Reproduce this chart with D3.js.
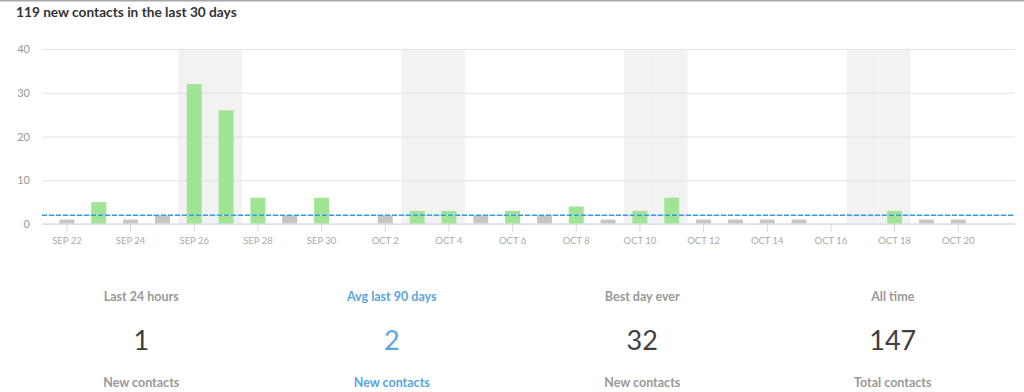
<!DOCTYPE html>
<html>
<head>
<meta charset="utf-8">
<script src="https://cdn.jsdelivr.net/npm/d3@7"></script>
<style>
  body { margin: 0; background: #fff; font-family: Lato, "Open Sans", sans-serif; }
  svg { display: block; }
</style>
</head>
<body>
<svg id="chart"></svg>
<script>
// data
var startDay = '2015-09-22';
var values = [1, 5, 1, 2, 32, 26, 6, 2, 6, 0, 2, 3, 3, 2, 3, 2, 4, 1, 3, 6, 1, 1, 1, 1, 0, 0, 3, 1, 1, 0];
var yTicks = [0, 10, 20, 30, 40];
var avg90 = 2;
var statTitles = ['Last 24 hours', 'Avg last 90 days', 'Best day ever', 'All time'];
var statValues = ['1', '2', '32', '147'];
var statUnits = ['New contacts', 'New contacts', 'New contacts', 'Total contacts'];

var W = 1024, H = 392;
var margin = { top: 49, right: 9, bottom: 168, left: 42 };
var plotW = W - margin.left - margin.right;
var plotH = H - margin.top - margin.bottom;

var parse = d3.timeParse('%Y-%m-%d');
var days = values.map(function (v, i) { return d3.timeDay.offset(parse(startDay), i); });
var fmt = d3.timeFormat('%b %-d');

var svg = d3.select('#chart').attr('width', W).attr('height', H);

// top border + title
svg.append('rect').attr('x', 0).attr('y', 0).attr('width', W).attr('height', 1.5).style('fill', '#a8a8a8');
svg.append('text')
    .attr('x', 16).attr('y', 17)
    .style('font-size', '13.7px').style('font-weight', 'bold').style('fill', '#333')
    .text(d3.sum(values) + ' new contacts in the last ' + values.length + ' days');

var g = svg.append('g').attr('transform', 'translate(' + margin.left + ',' + margin.top + ')');

var x = d3.scaleBand().domain(d3.range(values.length)).range([9, plotW - 9]);
var y = d3.scaleLinear().domain([0, 40]).range([plotH, 0]);

// weekend shading
g.selectAll('.wk').data(days.map(function (d, i) { return i; }).filter(function (i) {
        var wd = days[i].getDay(); return wd === 0 || wd === 6;
    }))
    .enter().append('rect')
    .attr('x', function (i) { return x(i); })
    .attr('y', 0)
    .attr('width', x.step())
    .attr('height', plotH)
    .style('fill', '#f2f2f2');

// gridlines + y labels
var yAxis = d3.axisLeft(y).tickValues(yTicks).tickSize(-plotW).tickPadding(12);
g.append('g').call(yAxis)
    .call(function (s) {
        s.select('.domain').remove();
        s.selectAll('.tick line').style('stroke', '#e2e2e2');
        s.selectAll('.tick text').style('fill', '#999').style('font-size', '11px').style('font-family', 'Lato');
    });

// bars
var bw = x.bandwidth() * 0.47;
g.selectAll('.bar').data(values).enter().append('rect')
    .attr('x', function (d, i) { return x(i) + (x.bandwidth() - bw) / 2; })
    .attr('y', function (d) { return y(d); })
    .attr('width', bw)
    .attr('height', function (d) { return plotH - y(d); })
    .style('fill', function (d) { return d > avg90 ? '#9fe594' : '#c5c5c5'; });

// x axis
var xAxis = d3.axisBottom(x)
    .tickValues(d3.range(0, values.length, 2))
    .tickFormat(function (i) { return fmt(days[i]).toUpperCase(); })
    .tickSize(8).tickPadding(5).tickSizeOuter(0);
g.append('g').attr('transform', 'translate(0,' + plotH + ')').call(xAxis)
    .call(function (s) {
        s.select('.domain').attr('d', 'M0,0H' + plotW).style('stroke', '#d9e1ec').style('stroke-width', 1.5);
        s.selectAll('.tick line').style('stroke', '#d0dbe8');
        s.selectAll('.tick text').style('fill', '#aaa').style('font-size', '9.5px').style('font-family', 'Lato');
    });

// average line
g.append('line').attr('x1', 0).attr('x2', plotW).attr('y1', y(avg90)).attr('y2', y(avg90))
    .style('stroke', '#b9dcf0').style('stroke-width', 1);
g.append('line').attr('x1', 0).attr('x2', plotW).attr('y1', y(avg90)).attr('y2', y(avg90))
    .style('stroke', '#3d9bd3').style('stroke-width', 1.5).style('stroke-dasharray', '5,2');

// stats
var cx = d3.scaleBand().domain(d3.range(4)).range([16, 1018]);
var stats = svg.append('g').selectAll('.stat').data(statTitles).enter().append('g')
    .attr('transform', function (d, i) { return 'translate(' + (cx(i) + cx.bandwidth() / 2) + ',0)'; })
    .style('text-anchor', 'middle');
stats.append('text').attr('y', 301)
    .style('font-size', '12.5px').style('font-weight', 'bold')
    .style('fill', function (d, i) { return i === 1 ? '#5aa6dc' : '#999'; })
    .text(function (d) { return d; });
stats.append('text').attr('y', 350)
    .style('font-size', '27px')
    .style('fill', function (d, i) { return i === 1 ? '#5aa6dc' : '#3f3f3f'; })
    .text(function (d, i) { return statValues[i]; });
stats.append('text').attr('y', 387)
    .style('font-size', '12.5px').style('font-weight', 'bold')
    .style('fill', function (d, i) { return i === 1 ? '#5aa6dc' : '#999'; })
    .text(function (d, i) { return statUnits[i]; });
</script>
</body>
</html>
